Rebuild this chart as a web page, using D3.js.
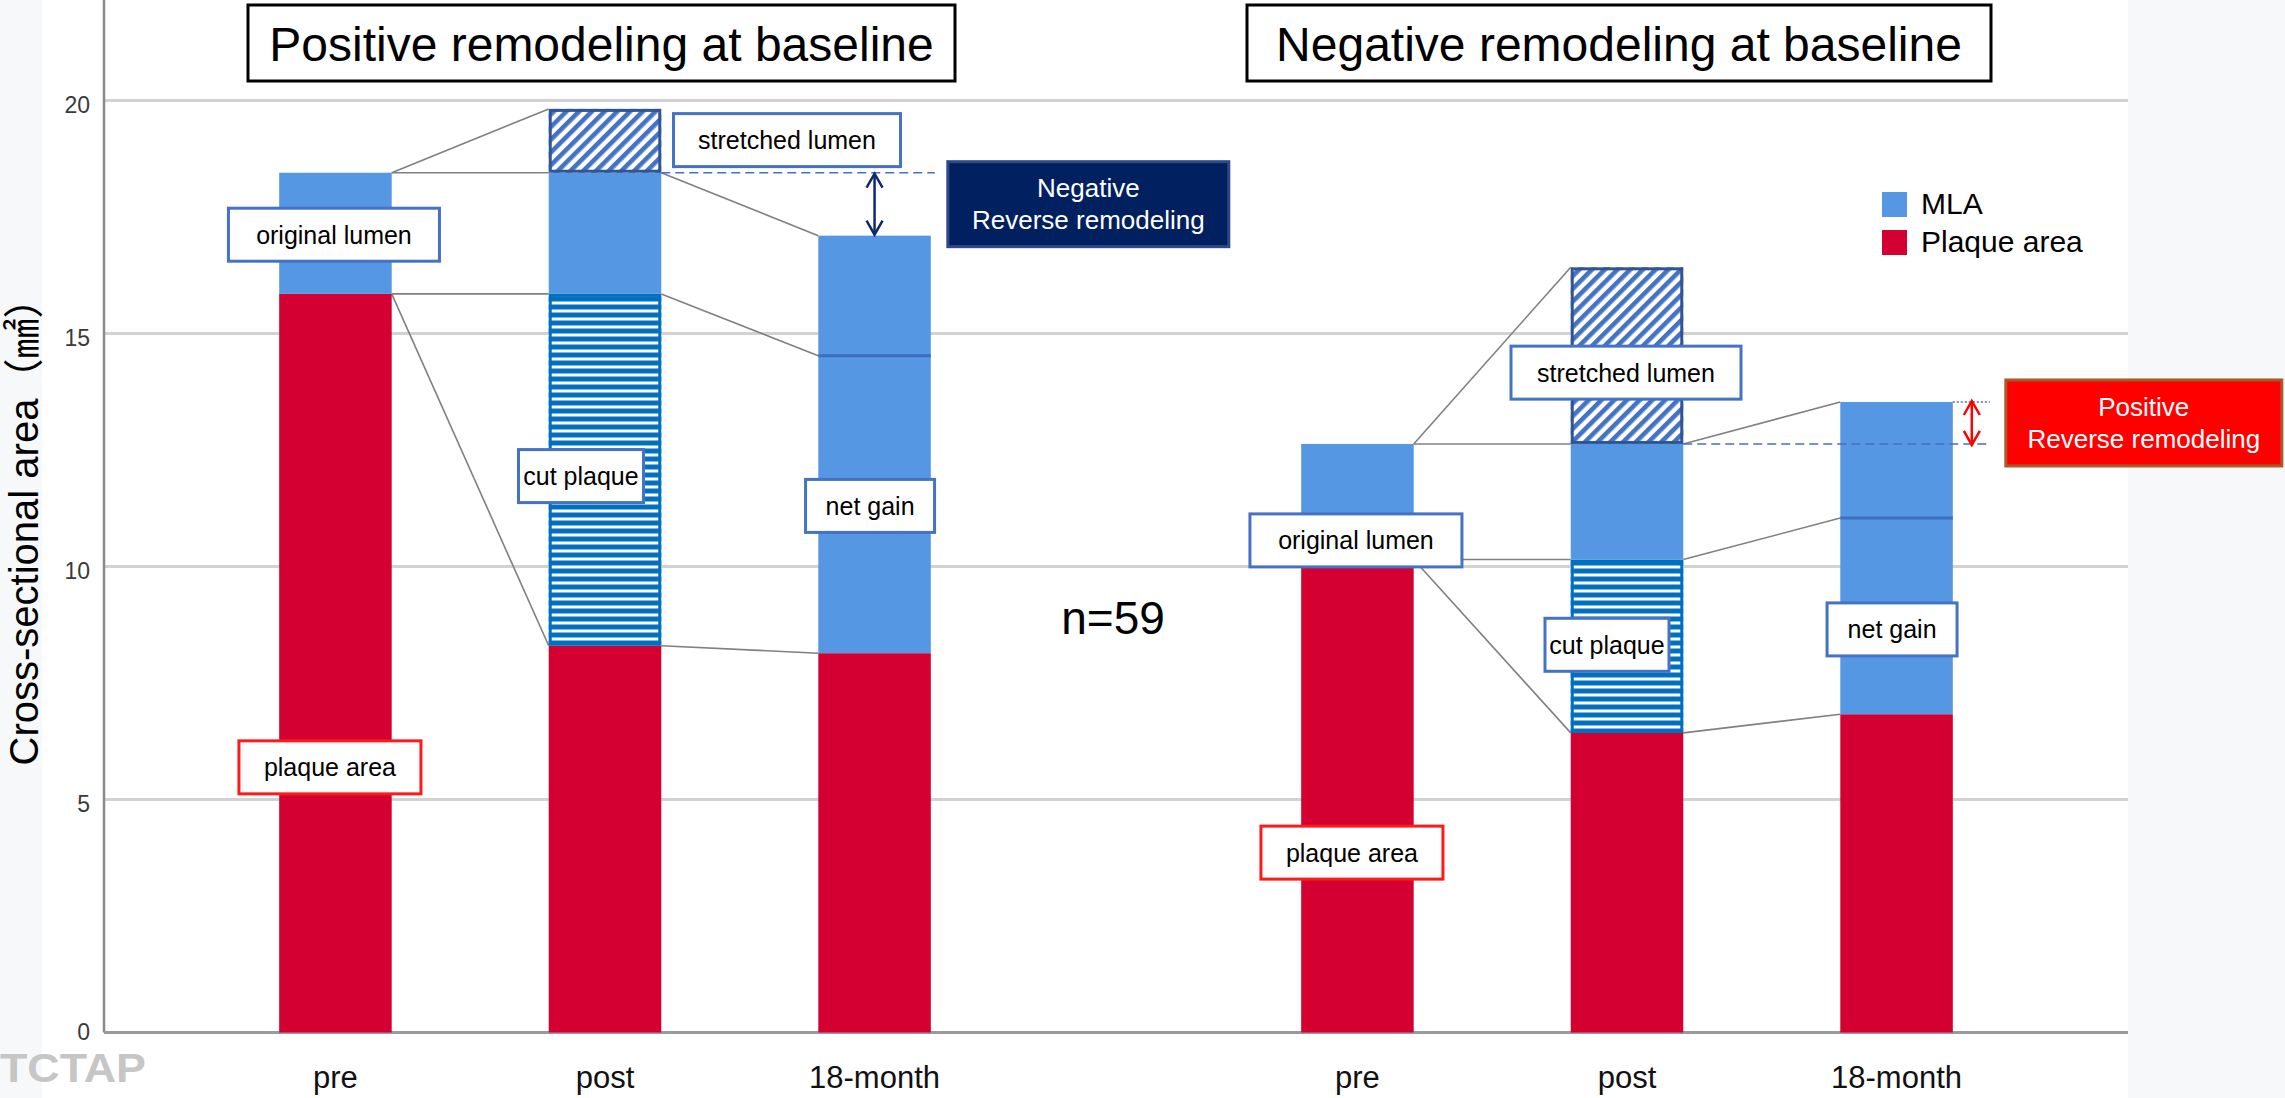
<!DOCTYPE html>
<html>
<head>
<meta charset="utf-8">
<script src="https://cdn.jsdelivr.net/npm/d3@7"></script>
<style>
  html, body { margin: 0; padding: 0; background: #f7f8fa; }
  svg { display: block; }
  text { font-family: "Liberation Sans", Arial, "Noto Sans CJK JP", sans-serif; }
</style>
</head>
<body>
<svg id="chart" width="2285" height="1098"></svg>
<script>
// ---- data ---------------------------------------------------------------
const groups = ["Positive remodeling at baseline", "Negative remodeling at baseline"];
const timepoints = ["pre", "post", "18-month"];
// stacked components of each bar in mm² (positive group first, then negative group)
const plaqueArea     = [15.85, 8.30, 8.14, 10.15, 6.43, 6.83];
const cutPlaque      = [0, 7.55, 0, 0, 3.72, 0];
const lumenArea      = [2.60, 2.60, 8.96, 2.48, 2.48, 6.70];
const stretchedLumen = [0, 1.37, 0, 0, 3.79, 0];
// level inside the 18-month lumen where the net gain begins
const netGainLevel   = [null, null, 14.52, null, null, 11.04];
const yTicks = [0, 5, 10, 15, 20];
const legendLabels = ["MLA", "Plaque area"];
const sampleLabel = "n=59";
const yTitle = "Cross-sectional area（㎟）";
const remodelingNotes = [["Negative", "Reverse remodeling"], ["Positive", "Reverse remodeling"]];

// ---- layout ------------------------------------------------------------
const W = 2285, H = 1098;
const plotLeft = 104, plotRight = 2128;
const svg = d3.select("#chart");

const COLORS = {
  plaque: "#d50032",
  lumen: "#5597e2",
  cut: "#0070c0",
  stretched: "#4472c4",
  stretchedEdge: "#2f5597",
  grid: "#d2d2d2",
  connector: "#808080",
  navy: "#0d2a6b",
  red: "#ff0000"
};

const rows = [];
groups.forEach((g, gi) => timepoints.forEach((t, ti) => {
  const i = gi * 3 + ti;
  rows.push({ group: g, time: t, idx: i,
    plaque: plaqueArea[i], cut: cutPlaque[i], lumen: lumenArea[i], stretched: stretchedLumen[i] });
}));

const keys = ["plaque", "cut", "lumen", "stretched"];
const series = d3.stack().keys(keys)(rows);
const stackTop = (i, key) => series[keys.indexOf(key)][i][1];

const xGroup = d3.scaleBand().domain(groups).range([94, 2138]).paddingInner(0).paddingOuter(0);
const xTime = d3.scaleBand().domain(timepoints).range([0, xGroup.bandwidth()])
  .paddingInner(0.5826).paddingOuter(0.687);
const xLeft = i => xGroup(rows[i].group) + xTime(rows[i].time);
const xRight = i => xLeft(i) + xTime.bandwidth();
const xMid = i => xLeft(i) + xTime.bandwidth() / 2;

const y = d3.scaleLinear().domain([0, 20]).range([1032.5, 100.5]);

// ---- background ----------------------------------------------------------
svg.append("rect").attr("x", 42).attr("y", 0).attr("width", 2086).attr("height", H).attr("fill", "#ffffff");

// ---- patterns ------------------------------------------------------------
const defs = svg.append("defs");
const diag = defs.append("pattern").attr("id", "diagHatch").attr("patternUnits", "userSpaceOnUse")
  .attr("width", 9).attr("height", 9).attr("patternTransform", "rotate(45)");
diag.append("rect").attr("width", 9).attr("height", 9).attr("fill", "#ffffff");
diag.append("rect").attr("width", 4.6).attr("height", 9).attr("fill", COLORS.stretched);

const hor = defs.append("pattern").attr("id", "horHatch").attr("patternUnits", "userSpaceOnUse")
  .attr("width", 8).attr("height", 8).attr("y", y(0));
hor.append("rect").attr("width", 8).attr("height", 8).attr("fill", COLORS.cut);
hor.append("rect").attr("y", 5).attr("width", 8).attr("height", 3).attr("fill", "#ffffff");

// ---- grid and axes ---------------------------------------------------------
svg.append("g").selectAll("line").data(yTicks.filter(v => v > 0)).join("line")
  .attr("x1", plotLeft).attr("x2", plotRight)
  .attr("y1", d => y(d)).attr("y2", d => y(d))
  .attr("stroke", COLORS.grid).attr("stroke-width", 3);

const yAxis = svg.append("g").attr("transform", `translate(${plotLeft},0)`)
  .call(d3.axisLeft(y).tickValues(yTicks).tickSize(0).tickPadding(14));
yAxis.select(".domain").remove();
yAxis.selectAll("text").attr("font-size", 23).attr("fill", "#3a3a3a")
  .attr("font-family", "'Liberation Sans', Arial, sans-serif")
  .attr("dy", d => d === 0 ? "0.3em" : "0.5em");

svg.append("line").attr("x1", plotLeft).attr("x2", plotLeft).attr("y1", 0).attr("y2", y(0))
  .attr("stroke", "#8a8a8a").attr("stroke-width", 2.5);
svg.append("line").attr("x1", plotLeft).attr("x2", plotRight).attr("y1", y(0)).attr("y2", y(0))
  .attr("stroke", "#9a9a9a").attr("stroke-width", 3);

svg.append("text").attr("transform", `translate(24,522) rotate(-90)`)
  .attr("text-anchor", "middle").attr("dominant-baseline", "central")
  .attr("font-size", 40).attr("fill", "#000").text(yTitle);

svg.append("g").selectAll("text").data(rows).join("text")
  .attr("x", d => xMid(d.idx)).attr("y", 1088)
  .attr("text-anchor", "middle").attr("font-size", 31).attr("fill", "#111")
  .text(d => d.time);

svg.append("text").attr("x", 0).attr("y", 1082).attr("font-size", 41).attr("font-weight", "bold")
  .attr("textLength", 146).attr("lengthAdjust", "spacingAndGlyphs")
  .attr("fill", "#c6c6c6").text("TCTAP");

// ---- connectors between bars --------------------------------------------------
const links = [];
groups.forEach((g, gi) => {
  const pre = gi * 3, post = pre + 1, late = pre + 2;
  links.push([pre, stackTop(pre, "lumen"), post, stackTop(post, "stretched")]);
  links.push([pre, stackTop(pre, "lumen"), post, stackTop(post, "lumen")]);
  links.push([pre, stackTop(pre, "plaque"), post, stackTop(post, "cut")]);
  links.push([pre, stackTop(pre, "plaque"), post, stackTop(post, "plaque")]);
  links.push([post, stackTop(post, "lumen"), late, stackTop(late, "lumen")]);
  links.push([post, stackTop(post, "cut"), late, netGainLevel[late]]);
  links.push([post, stackTop(post, "plaque"), late, stackTop(late, "plaque")]);
});
svg.append("g").selectAll("line").data(links).join("line")
  .attr("x1", d => xRight(d[0])).attr("y1", d => y(d[1]))
  .attr("x2", d => xLeft(d[2])).attr("y2", d => y(d[3]))
  .attr("stroke", COLORS.connector).attr("stroke-width", 1.6);

// ---- stacked bars --------------------------------------------------------------
const fillFor = { plaque: COLORS.plaque, cut: "url(#horHatch)", lumen: COLORS.lumen, stretched: "url(#diagHatch)" };
const barG = svg.append("g");
series.forEach(s => {
  const segs = s.filter(d => d[1] - d[0] > 0);
  barG.selectAll(null).data(segs).join("rect")
    .attr("x", d => xLeft(d.data.idx))
    .attr("y", d => y(d[1]))
    .attr("width", xTime.bandwidth())
    .attr("height", d => y(d[0]) - y(d[1]))
    .attr("fill", fillFor[s.key]);
  if (s.key === "cut" || s.key === "stretched") {
    barG.selectAll(null).data(segs).join("rect")
      .attr("x", d => xLeft(d.data.idx) + 1.5)
      .attr("y", d => y(d[1]) + 1.5)
      .attr("width", xTime.bandwidth() - 3)
      .attr("height", d => y(d[0]) - y(d[1]) - 3)
      .attr("fill", "none")
      .attr("stroke", s.key === "cut" ? COLORS.cut : COLORS.stretchedEdge)
      .attr("stroke-width", 3);
  }
});

// net gain division inside the 18-month lumen
svg.append("g").selectAll("line").data(rows.filter(d => netGainLevel[d.idx] != null)).join("line")
  .attr("x1", d => xLeft(d.idx)).attr("x2", d => xRight(d.idx))
  .attr("y1", d => y(netGainLevel[d.idx])).attr("y2", d => y(netGainLevel[d.idx]))
  .attr("stroke", "#3f6dbf").attr("stroke-width", 3);

// ---- reverse remodeling markers -------------------------------------------------
function doubleArrow(g, x, yA, yB, color) {
  g.append("line").attr("x1", x).attr("x2", x).attr("y1", yA).attr("y2", yB)
    .attr("stroke", color).attr("stroke-width", 2.5);
  const dir = yB > yA ? 1 : -1;
  [[yA, dir], [yB, -dir]].forEach(([yy, d]) => {
    g.append("polyline")
      .attr("points", `${x - 8},${yy + d * 14} ${x},${yy} ${x + 8},${yy + d * 14}`)
      .attr("fill", "none").attr("stroke", color).attr("stroke-width", 2.5);
  });
}
const markerG = svg.append("g");
const remodelingStyle = [
  { arrowDx: null, dashEnd: 4, fill: "#002060", stroke: "#2c4a8a", boxDx: 17, boxW: 281, boxH: 85, arrowColor: COLORS.navy },
  { arrowDx: 19, dashEnd: 37, fill: "#ff0000", stroke: "#a85a2a", boxDx: 53, boxW: 276, boxH: 86, arrowColor: COLORS.red }
];
groups.forEach((g, gi) => {
  const post = gi * 3 + 1, late = gi * 3 + 2;
  const st = remodelingStyle[gi];
  const yPost = y(stackTop(post, "lumen")), yLate = y(stackTop(late, "lumen"));
  markerG.append("line").attr("x1", xRight(post)).attr("x2", xRight(late) + st.dashEnd)
    .attr("y1", yPost).attr("y2", yPost)
    .attr("stroke", COLORS.stretched).attr("stroke-width", 1.6).attr("stroke-dasharray", "9,5");
  if (st.arrowDx != null) {
    markerG.append("line").attr("x1", xRight(late)).attr("x2", xRight(late) + st.dashEnd)
      .attr("y1", yLate).attr("y2", yLate)
      .attr("stroke", COLORS.stretched).attr("stroke-width", 1.6).attr("stroke-dasharray", "2,2");
  }
  const ax = st.arrowDx == null ? xMid(late) : xRight(late) + st.arrowDx;
  doubleArrow(markerG, ax, yPost + 1, yLate - 1, st.arrowColor);
  const cy = (yPost + yLate) / 2;
  const bx = xRight(late) + st.boxDx;
  markerG.append("rect").attr("x", bx).attr("y", cy - st.boxH / 2)
    .attr("width", st.boxW).attr("height", st.boxH)
    .attr("fill", st.fill).attr("stroke", st.stroke).attr("stroke-width", 3);
  remodelingNotes[gi].forEach((line, li) => {
    markerG.append("text").attr("x", bx + st.boxW / 2).attr("y", cy - 7 + li * 32)
      .attr("text-anchor", "middle").attr("font-size", 26).attr("fill", "#ffffff").text(line);
  });
});

// ---- segment callouts ---------------------------------------------------------
const callouts = [
  { text: "original lumen",  bar: 0, dx: -1.5, v: 17.12, w: 211, red: false },
  { text: "stretched lumen", bar: 1, dx: 182,  v: 19.15, w: 227, red: false },
  { text: "cut plaque",      bar: 1, dx: -24,  v: 11.94, w: 125, red: false },
  { text: "net gain",        bar: 2, dx: -4.5, v: 11.30, w: 129, red: false },
  { text: "plaque area",     bar: 0, dx: -5.5, v: 5.69,  w: 182, red: true },
  { text: "original lumen",  bar: 3, dx: -1.5, v: 10.56, w: 212, red: false },
  { text: "stretched lumen", bar: 4, dx: -1,   v: 14.16, w: 230, red: false },
  { text: "cut plaque",      bar: 4, dx: -20,  v: 8.32,  w: 124, red: false },
  { text: "net gain",        bar: 5, dx: -4.5, v: 8.65,  w: 130, red: false },
  { text: "plaque area",     bar: 3, dx: -5.5, v: 3.86,  w: 182, red: true }
];
const cg = svg.append("g").selectAll("g").data(callouts).join("g")
  .attr("transform", d => `translate(${xMid(d.bar) + d.dx},${y(d.v)})`);
cg.append("rect").attr("x", d => -d.w / 2).attr("y", -26.5).attr("width", d => d.w).attr("height", 53)
  .attr("fill", "#ffffff").attr("stroke", d => d.red ? "#ff1a1a" : "#4472c4").attr("stroke-width", 3);
cg.append("text").attr("text-anchor", "middle").attr("dominant-baseline", "central")
  .attr("font-size", 25).attr("fill", "#000").text(d => d.text);

// ---- titles -----------------------------------------------------------------
const titleBoxes = [{ dx: -3.5, w: 707 }, { dx: -8, w: 744 }];
groups.forEach((g, gi) => {
  const cx = xGroup(g) + xGroup.bandwidth() / 2 + titleBoxes[gi].dx;
  const w = titleBoxes[gi].w;
  svg.append("rect").attr("x", cx - w / 2).attr("y", 5).attr("width", w).attr("height", 76)
    .attr("fill", "#ffffff").attr("stroke", "#000").attr("stroke-width", 3);
  svg.append("text").attr("x", cx).attr("y", 61).attr("text-anchor", "middle")
    .attr("font-size", 48).attr("fill", "#000").text(g);
});

svg.append("text").attr("x", xGroup(groups[1]) - 3).attr("y", 634).attr("text-anchor", "middle")
  .attr("font-size", 46).attr("fill", "#000").text(sampleLabel);

// ---- legend -----------------------------------------------------------------
const legend = svg.append("g").attr("transform", "translate(1882,192)");
const lg = legend.selectAll("g").data(legendLabels).join("g")
  .attr("transform", (d, i) => `translate(0,${i * 38})`);
lg.append("rect").attr("width", 25).attr("height", 25)
  .attr("fill", (d, i) => i === 0 ? COLORS.lumen : COLORS.plaque);
lg.append("text").attr("x", 39).attr("y", 22).attr("font-size", 30).attr("fill", "#000").text(d => d);
</script>
</body>
</html>
